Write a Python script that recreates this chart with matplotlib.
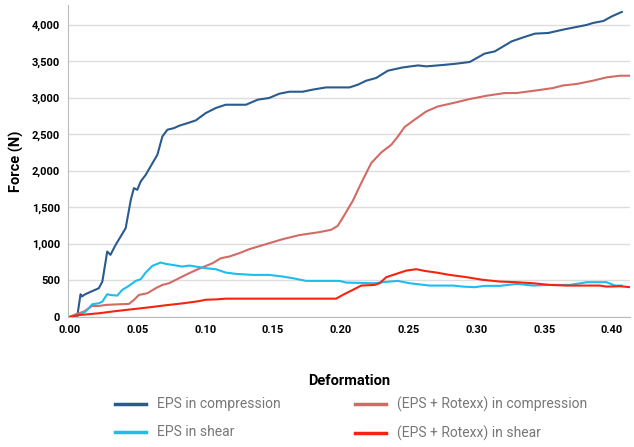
import matplotlib.pyplot as plt
from matplotlib.ticker import FuncFormatter

# EPS in compression
eps_comp_x = [0, 0.0054, 0.0079, 0.009, 0.0104, 0.0125, 0.0214, 0.024, 0.0276, 0.030, 0.0338, 0.0375,
              0.0412, 0.045, 0.0473, 0.0498, 0.0523, 0.056, 0.061, 0.0646, 0.0683, 0.072, 0.077, 0.0806,
              0.087, 0.093, 0.1003, 0.1078, 0.115, 0.13, 0.1386, 0.147, 0.1546, 0.162, 0.1718, 0.179,
              0.189, 0.2064, 0.2125, 0.2187, 0.226, 0.2347, 0.2458, 0.257, 0.263, 0.2754, 0.2853, 0.2951,
              0.306, 0.3136, 0.326, 0.3346, 0.3432, 0.353, 0.364, 0.3814, 0.386, 0.3937, 0.40, 0.4073]
eps_comp_y = [0, 0, 310, 280, 300, 320, 393, 484, 895, 850, 986, 1100,
              1215, 1603, 1763, 1740, 1854, 1945, 2105, 2219, 2470, 2562, 2585, 2616,
              2653, 2690, 2790, 2860, 2904, 2904, 2973, 2996, 3055, 3082, 3082, 3110,
              3141, 3141, 3178, 3233, 3270, 3370, 3415, 3442, 3429, 3448, 3466, 3489,
              3603, 3634, 3771, 3826, 3877, 3886, 3932, 3996, 4023, 4050, 4114, 4174]

# (EPS + Rotexx) in compression
rot_comp_x = [0, 0.003, 0.0104, 0.0165, 0.0214, 0.0264, 0.0362, 0.0436, 0.0473, 0.051, 0.0572, 0.0634,
              0.0683, 0.0732, 0.0806, 0.088, 0.0954, 0.1053, 0.1115, 0.1176, 0.125, 0.1324, 0.1448, 0.157,
              0.1694, 0.184, 0.1928, 0.1977, 0.2027, 0.2088, 0.215, 0.2224, 0.2298, 0.2372, 0.2421, 0.247,
              0.2544, 0.263, 0.2717, 0.2828, 0.2951, 0.3075, 0.321, 0.3297, 0.3444, 0.3567, 0.364, 0.374,
              0.386, 0.396, 0.406, 0.4135]
rot_comp_y = [0, 27, 73, 150, 150, 164, 173, 178, 233, 301, 324, 393,
              438, 461, 530, 598, 660, 735, 804, 826, 872, 927, 996, 1064,
              1120, 1160, 1192, 1247, 1397, 1589, 1831, 2105, 2251, 2356, 2470, 2598,
              2699, 2812, 2881, 2927, 2982, 3027, 3064, 3064, 3100, 3133, 3168, 3188,
              3233, 3278, 3301, 3301]

# EPS in shear
eps_shear_x = [0, 0.0067, 0.0116, 0.0165, 0.0214, 0.024, 0.0276, 0.030, 0.035, 0.0387, 0.0436, 0.0486,
               0.0523, 0.056, 0.0609, 0.067, 0.0708, 0.0757, 0.083, 0.088, 0.093, 0.1003, 0.1078, 0.115,
               0.1226, 0.1349, 0.147, 0.157, 0.1645, 0.1743, 0.199, 0.204, 0.2249, 0.231, 0.242, 0.2507,
               0.2655, 0.2828, 0.290, 0.2988, 0.306, 0.3173, 0.3297, 0.342, 0.354, 0.369, 0.3814, 0.396,
               0.4024, 0.4073]
eps_shear_y = [0, 27, 73, 173, 187, 210, 311, 300, 292, 370, 425, 493,
               516, 607, 699, 744, 726, 712, 689, 703, 689, 667, 653, 607,
               589, 575, 575, 553, 530, 493, 493, 470, 461, 475, 493, 461,
               429, 429, 415, 407, 425, 425, 452, 429, 438, 438, 475, 475,
               429, 429]

# (EPS + Rotexx) in shear
rot_shear_x = [0, 0.0067, 0.0214, 0.034, 0.046, 0.058, 0.071, 0.083, 0.095, 0.1003, 0.108, 0.115,
               0.1694, 0.1965, 0.2014, 0.2088, 0.215, 0.2249, 0.2286, 0.2335, 0.2409, 0.2483, 0.2557, 0.2618,
               0.2705, 0.2803, 0.2927, 0.305, 0.3173, 0.3297, 0.342, 0.354, 0.3666, 0.391, 0.396, 0.406,
               0.4135]
rot_shear_y = [0, 25, 50, 80, 105, 130, 160, 185, 215, 235, 240, 250,
               250, 250, 301, 370, 429, 438, 461, 544, 589, 634, 653, 630,
               607, 575, 544, 507, 484, 475, 461, 438, 429, 429, 415, 420,
               407]

series = [
    ("EPS in compression", eps_comp_x, eps_comp_y, "#2a5b8f"),
    ("(EPS + Rotexx) in compression", rot_comp_x, rot_comp_y, "#d46a64"),
    ("EPS in shear", eps_shear_x, eps_shear_y, "#1ebcef"),
    ("(EPS + Rotexx) in shear", rot_shear_x, rot_shear_y, "#f4240f"),
]

plt.rcParams['font.family'] = ['Roboto', 'DejaVu Sans']

fig = plt.figure(figsize=(6.34, 4.47), dpi=100)
ax = fig.add_axes([0.108, 0.291, 0.886, 0.698])

handles = []
for name, xs, ys, col in series:
    ln, = ax.plot(xs, ys, color=col, lw=1.5, label=name)
    handles.append(ln)

ax.set_xlim(-0.001, 0.4135)
ax.set_ylim(0, 4270)
ax.set_xticks([0, 0.05, 0.10, 0.15, 0.20, 0.25, 0.30, 0.35, 0.40])
ax.set_yticks(range(0, 4001, 500))
ax.xaxis.set_major_formatter(FuncFormatter(lambda v, p: f"{v:.2f}"))
ax.yaxis.set_major_formatter(FuncFormatter(lambda v, p: f"{int(v):,}"))
ax.tick_params(length=0, labelsize=8, pad=6)
for lab in ax.get_xticklabels() + ax.get_yticklabels():
    lab.set_fontweight('bold')
ax.grid(axis='y', color='#dddddd', lw=1)
ax.set_axisbelow(True)
for s in ['top', 'right']:
    ax.spines[s].set_visible(False)
for s in ['left', 'bottom']:
    ax.spines[s].set_color('#bbbbbb')

ax.set_xlabel("Deformation", fontsize=10.5, fontweight='bold', labelpad=28)
ax.set_ylabel("Force (N)", fontsize=10.5, fontweight='bold', labelpad=6)

# legend fills column by column, so reorder to get row-major layout
order = [handles[0], handles[2], handles[1], handles[3]]
leg = fig.legend(order, [h.get_label() for h in order], ncol=2, loc='center',
                 bbox_to_anchor=(0.554, 0.063), frameon=False, fontsize=10,
                 handlelength=2.2, handletextpad=0.8, columnspacing=5.4,
                 labelspacing=1.0, labelcolor='#777777')
for h in leg.get_lines():
    h.set_linewidth(2.5)

fig.savefig("out.png", dpi=100)
